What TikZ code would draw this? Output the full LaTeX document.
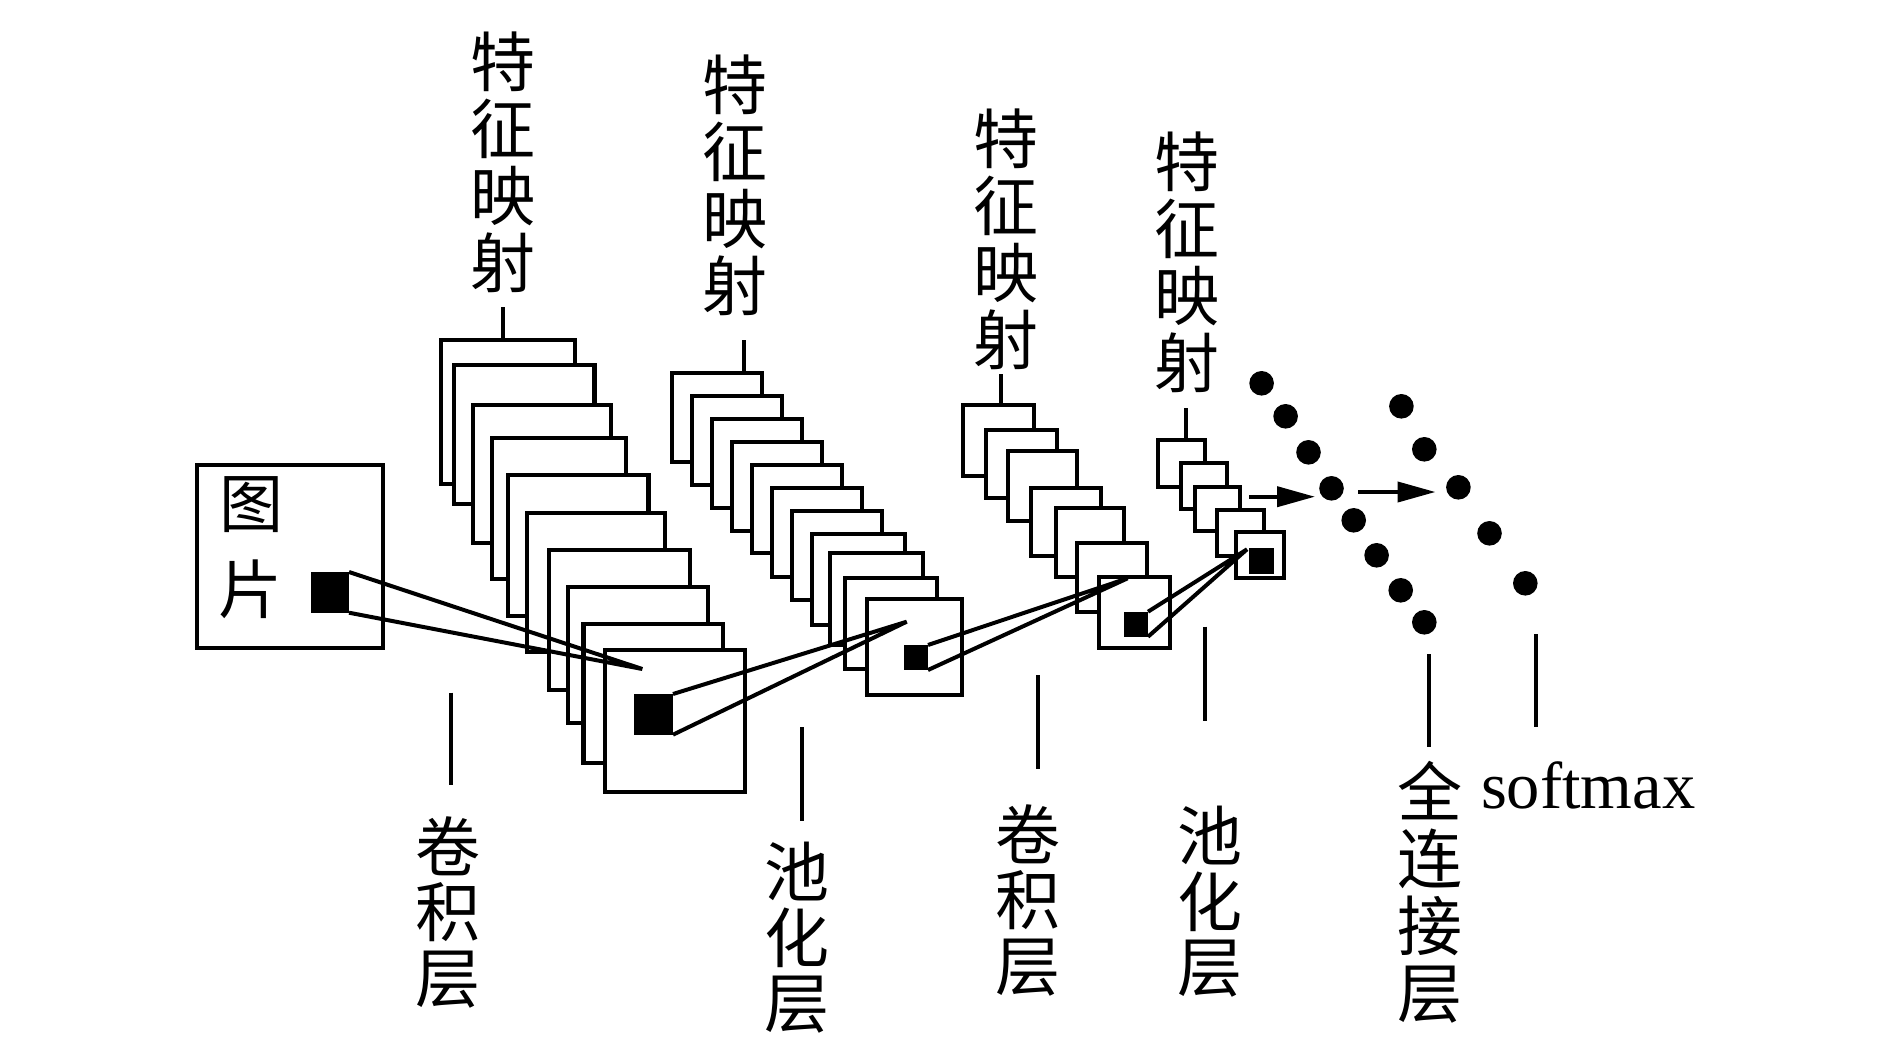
\documentclass[tikz,border=0pt]{standalone}
\usepackage{fontspec}
\setmainfont{Liberation Serif}
\newfontfamily\cjk{Noto Sans CJK SC}
\usetikzlibrary{arrows.meta}
\tikzset{
  boxn/.style={draw=black,fill=white,line width=4.2pt,inner sep=0pt,outer sep=0pt,line join=miter},
  sqn/.style={fill=black,draw=none,inner sep=0pt,outer sep=0pt},
  dotn/.style={circle,fill=black,draw=none,inner sep=0pt,outer sep=0pt,minimum size=24.6pt},
  lead/.style={line width=3.8pt,black},
  wedge/.style={line width=4pt,black,line join=miter},
  flow/.style={line width=4pt,black,-{Triangle[length=38pt,width=20pt]}},
  vlabel/.style={inner sep=0pt,outer sep=0pt,align=center,font={\cjk\fontsize{65}{67}\selectfont}},
  vlabelb/.style={vlabel,font={\cjk\fontsize{65}{65.5}\selectfont}},
  pic/.style={inner sep=0pt,outer sep=0pt,font={\cjk\fontsize{64}{66}\selectfont}},
  latin/.style={inner sep=0pt,outer sep=0pt,font={\fontsize{66.5}{70}\selectfont}}
}
\newcommand{\bx}[6][boxn]{\node[#1,minimum width=\fpeval{#5-#3}pt,minimum height=\fpeval{#6-#4}pt] (#2) at ({(#3+#5)/2},{(#4+#6)/2}) {};}
\begin{document}
\begin{tikzpicture}[x=1pt,y=-1pt]
\useasboundingbox[fill=white] (0,0) rectangle (1890,1063);
% input image
\bx{img}{197}{465}{383}{648}
\bx[sqn]{imgsq}{310.5}{572}{349}{612.7}
\node[pic] (tu) at (251,505) {图};
\node[pic] (pian) at (250,589) {片};
% stack 1
\bx{aa}{440.6}{340}{575}{484}
\bx{ab}{454}{365.3}{594.5}{504.3}
\bx{ac}{472.8}{405}{611.3}{542.7}
\bx{ad}{492.3}{437.7}{626.2}{578.7}
\bx{ae}{508}{475.3}{648.4}{616}
\bx{af}{526.7}{512.7}{664.9}{652}
\bx{ag}{549.3}{550}{690.1}{690}
\bx{ah}{568}{587}{708}{723.3}
\bx{ai}{583.4}{623.7}{723}{763.3}
\bx{aj}{604.8}{649.7}{745.3}{791.7}
\bx[sqn]{asq}{634.3}{694}{673}{734.7}
% stack 2
\bx{ba}{672}{373}{762}{462}
\bx{bb}{692}{396}{782}{485}
\bx{bc}{712}{419}{802}{508}
\bx{bd}{732}{442}{822}{531}
\bx{be}{752}{465}{842}{553}
\bx{bf}{772}{488}{862}{577}
\bx{bg}{792}{511}{882}{600}
\bx{bh}{812}{534}{905}{625}
\bx{bi}{830}{553}{923}{645}
\bx{bj}{845}{578}{937}{669}
\bx{bk}{867}{599}{962}{695}
\bx[sqn]{bsq}{904}{645}{928}{670}
% stack 3
\bx{ca}{963}{405}{1033.7}{476}
\bx{cb}{985.7}{430}{1057}{497.7}
\bx{cc}{1008}{451}{1077}{521}
\bx{cd}{1030.7}{487.7}{1100.6}{556}
\bx{ce}{1056}{508}{1124}{577}
\bx{cf}{1077}{543}{1147}{612}
\bx{cg}{1099}{577}{1170}{648}
\bx[sqn]{csq}{1124}{611.7}{1148}{636.7}
% stack 4
\bx{da}{1158}{440}{1205.3}{487}
\bx{db}{1181}{462.7}{1227}{509}
\bx{dc}{1194.6}{486.7}{1239.7}{531}
\bx{dd}{1216.8}{510}{1264}{556}
\bx{de}{1236}{531.7}{1284}{578.3}
\bx[sqn]{dsq}{1249}{548}{1274}{573.7}
% wedge tips
\coordinate (tipa) at (642.3,669);
\coordinate (tipb) at (906.7,621.7);
\coordinate (tipc) at (1127.6,578.3);
\coordinate (tipd) at (1247,549.3);
\draw[wedge] (imgsq.north east) -- (tipa) -- (imgsq.south east);
\draw[wedge] (asq.north east) -- (tipb) -- (asq.south east);
\draw[wedge] (bsq.north east) -- (tipc) -- (bsq.south east);
\draw[wedge] (csq.north east) -- (tipd) -- (csq.south east);
% dots
\node[dotn] (p1) at (1261.6,383.3) {};
\node[dotn] (p2) at (1285.6,416.3) {};
\node[dotn] (p3) at (1308.5,452.3) {};
\node[dotn] (p4) at (1331.5,488.3) {};
\node[dotn] (p5) at (1353.7,520.3) {};
\node[dotn] (p6) at (1376.6,555.3) {};
\node[dotn] (p7) at (1400.7,590.3) {};
\node[dotn] (p8) at (1424.3,622.3) {};
\node[dotn] (q1) at (1401.4,406.3) {};
\node[dotn] (q2) at (1424.3,449.3) {};
\node[dotn] (q3) at (1458.4,487.3) {};
\node[dotn] (q4) at (1489.5,533.3) {};
\node[dotn] (q5) at (1525.3,583.3) {};
% arrows
\coordinate (fa) at (1249,496.7);
\coordinate (fb) at (1315,496.7);
\coordinate (ga) at (1358,492);
\coordinate (gb) at (1435.5,492);
\draw[flow] (fa) -- (fb);
\draw[flow] (ga) -- (gb);
% top labels
\node[vlabel] (ta) at (503,162) {特\\征\\映\\射};
\node[vlabel] (tb) at (735,185) {特\\征\\映\\射};
\node[vlabel] (tc) at (1006,239) {特\\征\\映\\射};
\node[vlabel] (td) at (1187,262) {特\\征\\映\\射};
% bottom labels
\node[vlabelb] (la) at (448,912) {卷\\积\\层};
\node[vlabelb] (lb) at (797,938) {池\\化\\层};
\node[vlabelb] (lc) at (1028,900) {卷\\积\\层};
\node[vlabelb] (ld) at (1210,902) {池\\化\\层};
\node[vlabel] (le) at (1430,892) {全\\连\\接\\层};
\node[latin,anchor=base west] (sm) at (1481,808) {softmax};
% leaders
\coordinate (ua) at (503,307);
\coordinate (ub) at (744,340);
\coordinate (uc) at (1001,374);
\coordinate (ud) at (1185.7,408);
\coordinate (va) at (451,692.7);
\coordinate (vb) at (451,785);
\coordinate (wa) at (801.6,727);
\coordinate (wb) at (801.6,821);
\coordinate (xa) at (1038,675);
\coordinate (xb) at (1038,769);
\coordinate (ya) at (1205,626.7);
\coordinate (yb) at (1205,720.8);
\coordinate (za) at (1428.8,654);
\coordinate (zb) at (1428.8,747);
\coordinate (sa) at (1535.7,634);
\coordinate (sb) at (1535.7,727);
\draw[lead] (ua) -- (ua |- aa.north);
\draw[lead] (ub) -- (ub |- ba.north);
\draw[lead] (uc) -- (uc |- ca.north);
\draw[lead] (ud) -- (ud |- da.north);
\draw[lead] (va) -- (vb);
\draw[lead] (wa) -- (wb);
\draw[lead] (xa) -- (xb);
\draw[lead] (ya) -- (yb);
\draw[lead] (za) -- (zb);
\draw[lead] (sa) -- (sb);
\end{tikzpicture}
\end{document}
